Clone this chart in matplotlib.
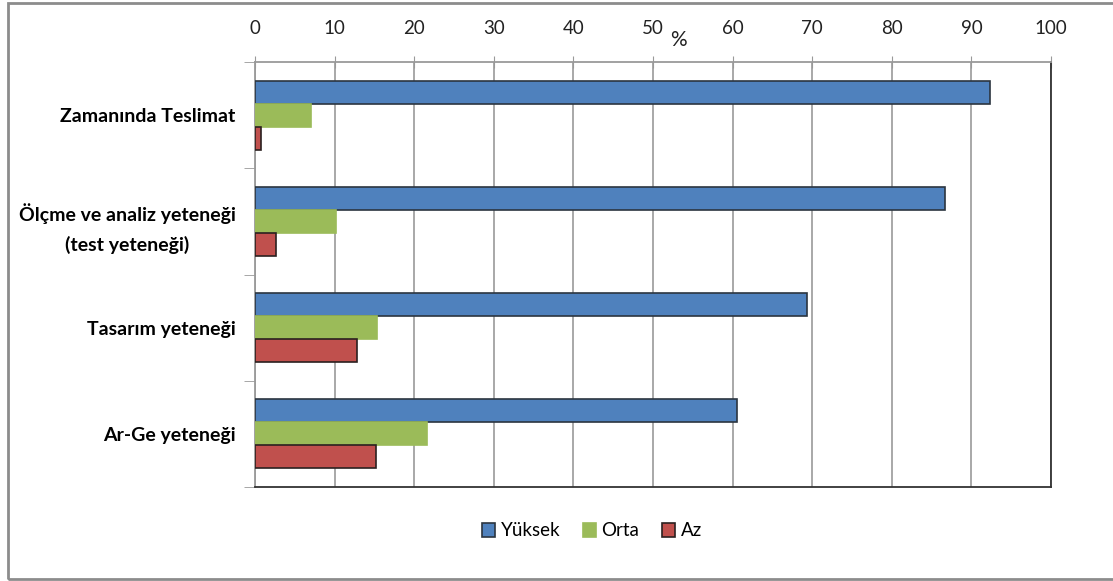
import numpy as np
import matplotlib.pyplot as plt
from matplotlib.patches import Rectangle

plt.rcParams['font.family'] = ['Lato', 'DejaVu Sans']

categories = ['Zamanında Teslimat', 'Ölçme ve analiz yeteneği\n(test yeteneği)',
              'Tasarım yeteneği', 'Ar-Ge yeteneği']
series     = ['Yüksek', 'Orta', 'Az']
yuksek     = [92.3, 86.7, 69.4, 60.5]
orta       = [7.0, 10.2, 15.3, 21.6]
az         = [0.7, 2.6, 12.8, 15.2]
xticks     = [0, 10, 20, 30, 40, 50, 60, 70, 80, 90, 100]

colors = ['#4F81BD', '#9BBB59', '#C0504D']
edges  = ['#2b3540', '#9BBB59', '#2b2020']

W, H = 1113, 581
fig = plt.figure(figsize=(W/100, H/100), dpi=100)
ax = fig.add_axes([255/W, 1-487/H, (1051-255)/W, (487-62)/H])

# outer chart border
fig.patches.append(Rectangle((8/W, 2/H), 1.2, 1-5/H, transform=fig.transFigure,
                             fill=False, edgecolor='#8c8c8c', lw=2))

y = np.arange(len(categories))
h = 0.216
for i, vals in enumerate([yuksek, orta, az]):
    ax.barh(y + (i-1)*h, vals, height=h, color=colors[i], edgecolor=edges[i],
            lw=1.2, label=series[i], zorder=3)

ax.set_xlim(0, 100)
ax.set_ylim(len(categories)-0.5, -0.5)
ax.xaxis.tick_top()
ax.set_xticks(xticks)
ax.set_xticklabels([str(t) for t in xticks], fontsize=13.5, color='#222222')
ax.tick_params(axis='x', length=8, direction='inout', color='#999999', pad=14)
ax.grid(axis='x', color='#9a9a9a', lw=1.2, zorder=0)

ax.set_yticks(y)
ax.set_yticklabels(categories, fontsize=14, fontweight='bold',
                   multialignment='center', linespacing=1.8)
ax.set_yticks(np.arange(len(categories)+1)-0.5, minor=True)
ax.tick_params(axis='y', which='major', length=0, pad=14)
ax.tick_params(axis='y', which='minor', length=8, color='#999999')

for s in ['left', 'top']:
    ax.spines[s].set_color('#9a9a9a')
for s in ['right', 'bottom']:
    ax.spines[s].set_color('#333333')
for s in ax.spines.values():
    s.set_linewidth(1.3)

ax.text(53.2, 1.052, '%', transform=ax.get_xaxis_transform(), fontsize=15,
        ha='center', va='center', color='#222222')

leg = fig.legend(loc='center', bbox_to_anchor=(592/W, 1-531/H), ncol=3, frameon=False,
                 fontsize=13.5, handlelength=0.7, handleheight=0.7, handletextpad=0.3,
                 columnspacing=1.2)

fig.savefig('out.png', dpi=100)
